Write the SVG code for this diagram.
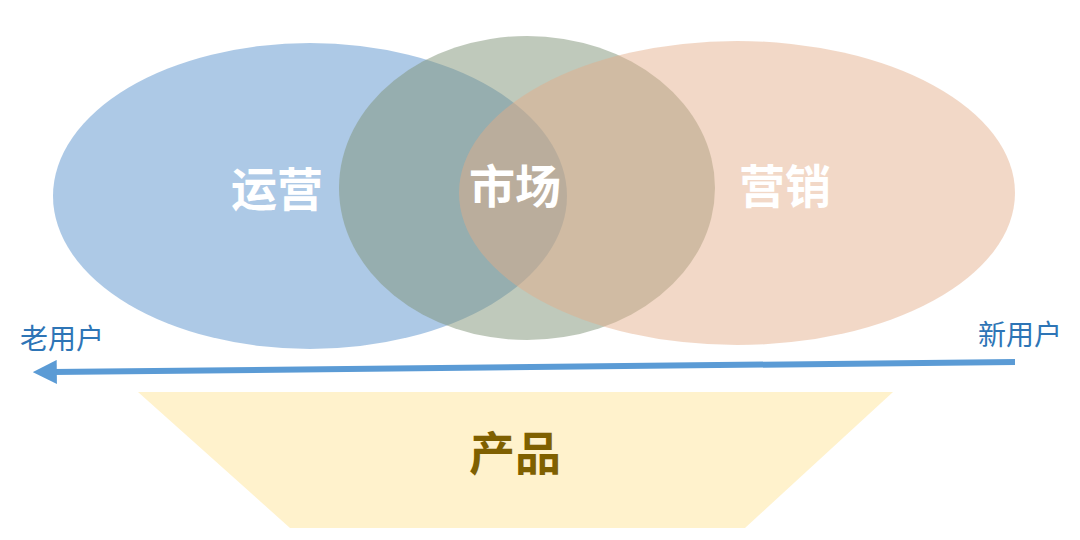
<svg xmlns="http://www.w3.org/2000/svg" width="1080" height="540" viewBox="0 0 1080 540">
<style>
.big{font-family:"Noto Sans CJK SC","Noto Sans",sans-serif;font-weight:bold;font-size:46px;fill:#fff;text-anchor:middle}
.lab{font-family:"Noto Sans CJK SC","Noto Sans",sans-serif;font-size:28px;fill:#2e75b6;text-anchor:middle}
</style>
<defs><marker id="ah" viewBox="0 0 10 10" refX="2" refY="5" markerWidth="4" markerHeight="4" orient="auto"><path d="M0,0L10,5L0,10z" fill="#5b9bd5"/></marker></defs>
<rect width="1080" height="540" fill="#fff"/>
<g id="yunying"><ellipse cx="310" cy="196" rx="257" ry="153" fill="#7aa8d6" fill-opacity="0.62"/></g>
<g id="shichang"><ellipse cx="527" cy="188" rx="188" ry="152" fill="#7f9378" fill-opacity="0.5"/></g>
<g id="yingxiao"><ellipse cx="737" cy="193" rx="278" ry="152" fill="#e4ac88" fill-opacity="0.47"/></g>
<g id="labels">
<text class="big" x="277" y="206">运营</text>
<text class="big" x="515" y="203">市场</text>
<text class="big" x="785" y="203">营销</text>
</g>
<g id="connectors"><line x1="1015" y1="362" x2="52" y2="372" stroke="#5b9bd5" stroke-width="6" marker-end="url(#ah)"/></g>
<g id="olduser"><text class="lab" x="62" y="349">老用户</text></g>
<g id="newuser"><text class="lab" x="1020" y="345">新用户</text></g>
<g id="product"><polygon points="138,392 893,392 745,528 290,528" fill="#fff2cc"/>
<text x="515" y="470" font-family="Noto Sans CJK SC,sans-serif" font-weight="bold" font-size="46" fill="#7f6000" text-anchor="middle">产品</text></g>
</svg>
